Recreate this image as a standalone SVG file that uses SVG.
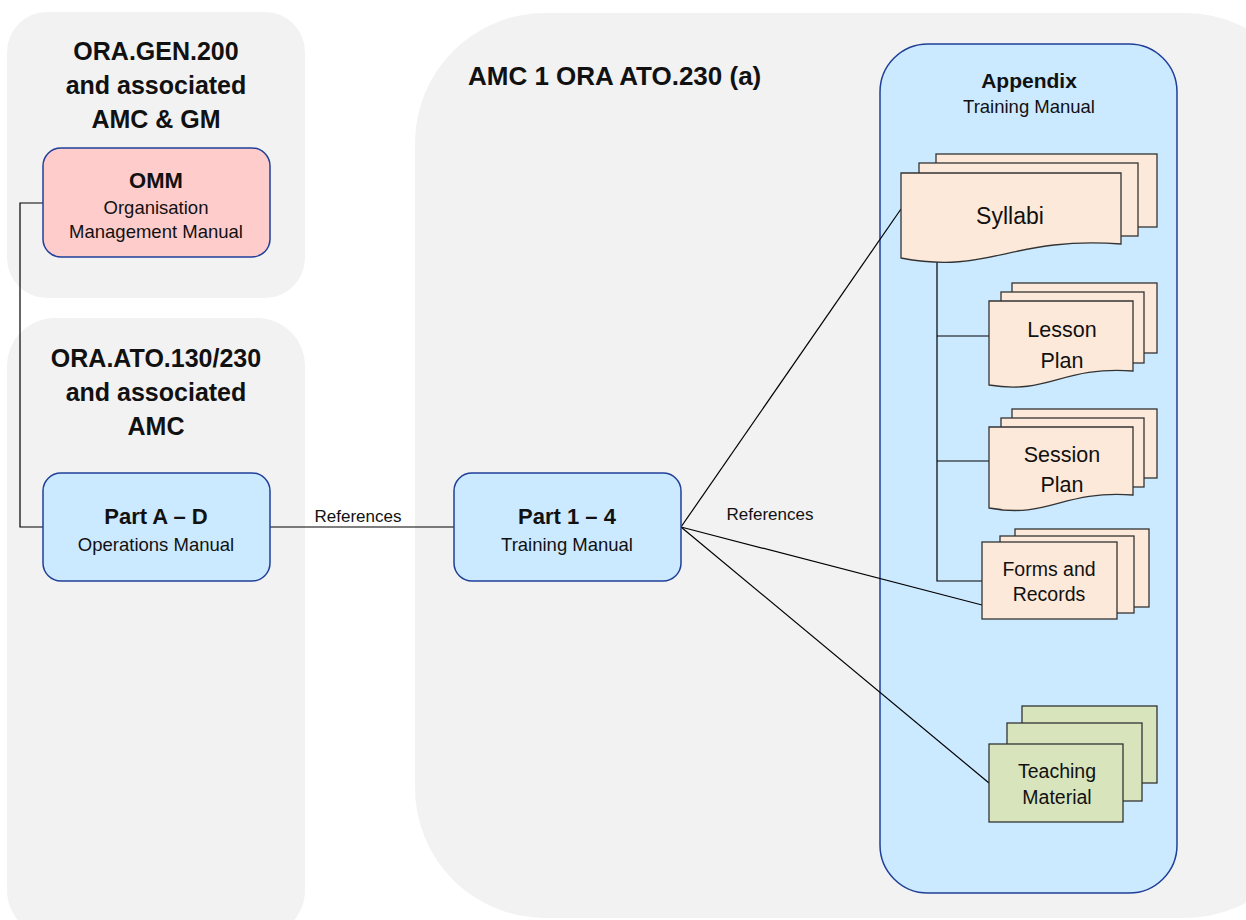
<svg xmlns="http://www.w3.org/2000/svg" width="1246" height="920" viewBox="0 0 1246 920">
<style>
.panel{fill:#f2f2f2;stroke:none}
.node{stroke:#1f3f99;stroke-width:1.5}
.blue{fill:#cceaff}
.pink{fill:#ffcccc}
.doc{fill:#fde9d9;stroke:#333;stroke-width:1.3}
.green{fill:#d8e4bc;stroke:#333;stroke-width:1.3}
.conn{fill:none;stroke:#000;stroke-width:1.2}
text{font-family:"Liberation Sans",Arial,sans-serif;fill:#111;text-anchor:middle}
.h{font-size:25px;font-weight:bold}
.b{font-size:22px;font-weight:bold}
.s{font-size:18.5px}
.d{font-size:21.5px}
.f{font-size:19.5px}
.lbl{font-size:17px}
</style>
<g id="panels">
<rect class="panel" x="7" y="12" width="298" height="286" rx="40"/>
<rect class="panel" x="7" y="318" width="298" height="620" rx="48"/>
<rect class="panel" x="415" y="13" width="900" height="905" rx="130"/>
</g>
<g id="titles">
<text class="h" x="156" y="60">ORA.GEN.200</text>
<text class="h" x="156" y="94">and associated</text>
<text class="h" x="156" y="128">AMC &amp; GM</text>
<text class="h" x="156" y="367">ORA.ATO.130/230</text>
<text class="h" x="156" y="401">and associated</text>
<text class="h" x="156" y="435">AMC</text>
<text class="h" x="468" y="85" style="text-anchor:start;font-size:26px">AMC 1 ORA ATO.230 (a)</text>
</g>
<g id="appendix">
<rect class="node blue" x="880" y="44" width="297" height="849" rx="48"/>
<text class="b" x="1029" y="88" style="font-size:21px">Appendix</text>
<text class="s" x="1029" y="113">Training Manual</text>
</g>
<g id="connectors">
<polyline class="conn" points="43,203 20,203 20,527 43,527"/>
<line class="conn" x1="270" y1="527" x2="454" y2="527"/>
<line class="conn" x1="681" y1="527" x2="901" y2="209"/>
<line class="conn" x1="681" y1="527" x2="982" y2="605"/>
<line class="conn" x1="681" y1="527" x2="989" y2="783"/>
<polyline class="conn" points="937,259 937,581 982,581"/>
<line class="conn" x1="937" y1="336" x2="989" y2="336"/>
<line class="conn" x1="937" y1="461" x2="989" y2="461"/>
<text class="lbl" x="358" y="522">References</text>
<text class="lbl" x="770" y="520">References</text>
</g>
<g id="omm">
<rect class="node pink" x="43" y="148" width="227" height="109" rx="18"/>
<text class="b" x="156" y="188">OMM</text>
<text class="s" x="156" y="214">Organisation</text>
<text class="s" x="156" y="238">Management Manual</text>
</g>
<g id="partAD">
<rect class="node blue" x="43" y="473" width="227" height="108" rx="18"/>
<text class="b" x="156" y="524">Part A – D</text>
<text class="s" x="156" y="551">Operations Manual</text>
</g>
<g id="part14">
<rect class="node blue" x="454" y="473" width="227" height="108" rx="18"/>
<text class="b" x="567" y="524">Part 1 – 4</text>
<text class="s" x="567" y="551">Training Manual</text>
</g>
<g id="syllabi">
<rect class="doc" x="936" y="154" width="221" height="73"/>
<rect class="doc" x="919" y="163" width="219" height="73"/>
<path class="doc" d="M901,173 H1121 V244 C1010,236 990,275 901,258 Z"/>
<text class="d" x="1010" y="224" style="font-size:23px">Syllabi</text>
</g>
<g id="lesson">
<rect class="doc" x="1012" y="283" width="145" height="70"/>
<rect class="doc" x="1001" y="292" width="143" height="71"/>
<path class="doc" d="M989,301 H1133 V371 C1060,366 1050,395 989,385 Z"/>
<text class="d" x="1062" y="337">Lesson</text>
<text class="d" x="1062" y="368">Plan</text>
</g>
<g id="session">
<rect class="doc" x="1012" y="409" width="145" height="69"/>
<rect class="doc" x="1001" y="418" width="143" height="69"/>
<path class="doc" d="M989,427 H1133 V495 C1060,490 1050,519 989,508 Z"/>
<text class="d" x="1062" y="462">Session</text>
<text class="d" x="1062" y="492">Plan</text>
</g>
<g id="forms">
<rect class="doc" x="1015" y="529" width="134" height="78"/>
<rect class="doc" x="1000" y="536" width="134" height="77"/>
<rect class="doc" x="982" y="542" width="135" height="77"/>
<text class="f" x="1049" y="576">Forms and</text>
<text class="f" x="1049" y="601">Records</text>
</g>
<g id="teaching">
<rect class="green" x="1022" y="706" width="135" height="77"/>
<rect class="green" x="1007" y="723" width="135" height="78"/>
<rect class="green" x="989" y="744" width="134" height="78"/>
<text class="f" x="1057" y="778">Teaching</text>
<text class="f" x="1057" y="804">Material</text>
</g>
</svg>
